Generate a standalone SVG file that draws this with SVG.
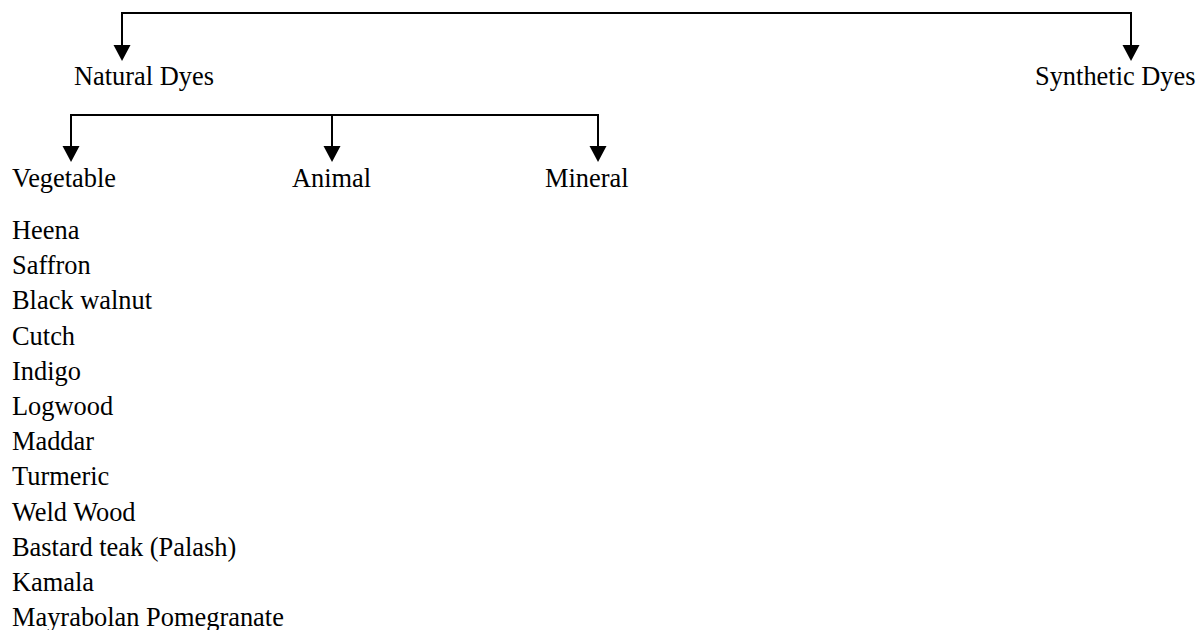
<svg xmlns="http://www.w3.org/2000/svg" width="1196" height="630" viewBox="0 0 1196 630">
<style>
text{font-family:"Liberation Serif","Times New Roman",serif;font-size:26.4px;fill:#000}
.ln{fill:none;stroke:#000;stroke-width:2}
.ah{fill:#000}
</style>
<rect width="1196" height="630" fill="#fff"/>
<g id="connectors">
<path class="ln" d="M122,46 V13 H1131 V46"/>
<polygon class="ah" points="113.5,45 130.5,45 122,61"/>
<polygon class="ah" points="1122.5,45 1139.5,45 1131,61"/>
<path class="ln" d="M71,147 V115 H598 V147 M332,115 V147"/>
<polygon class="ah" points="62.5,146 79.5,146 71,162"/>
<polygon class="ah" points="323.5,146 340.5,146 332,162"/>
<polygon class="ah" points="589.5,146 606.5,146 598,162"/>
</g>
<g id="natural"><text x="74" y="85">Natural Dyes</text></g>
<g id="synthetic"><text x="1035" y="85">Synthetic Dyes</text></g>
<g id="vegetable"><text x="12" y="187">Vegetable</text></g>
<g id="animal"><text x="292" y="187">Animal</text></g>
<g id="mineral"><text x="545" y="187">Mineral</text></g>
<g id="vegetable-list">
<text x="12" y="239">Heena</text>
<text x="12" y="274.2">Saffron</text>
<text x="12" y="309.4">Black walnut</text>
<text x="12" y="344.6">Cutch</text>
<text x="12" y="379.8">Indigo</text>
<text x="12" y="415">Logwood</text>
<text x="12" y="450.2">Maddar</text>
<text x="12" y="485.4">Turmeric</text>
<text x="12" y="520.6">Weld Wood</text>
<text x="12" y="555.8">Bastard teak (Palash)</text>
<text x="12" y="591">Kamala</text>
<text x="12" y="626.2">Mayrabolan Pomegranate</text>
</g>
</svg>
